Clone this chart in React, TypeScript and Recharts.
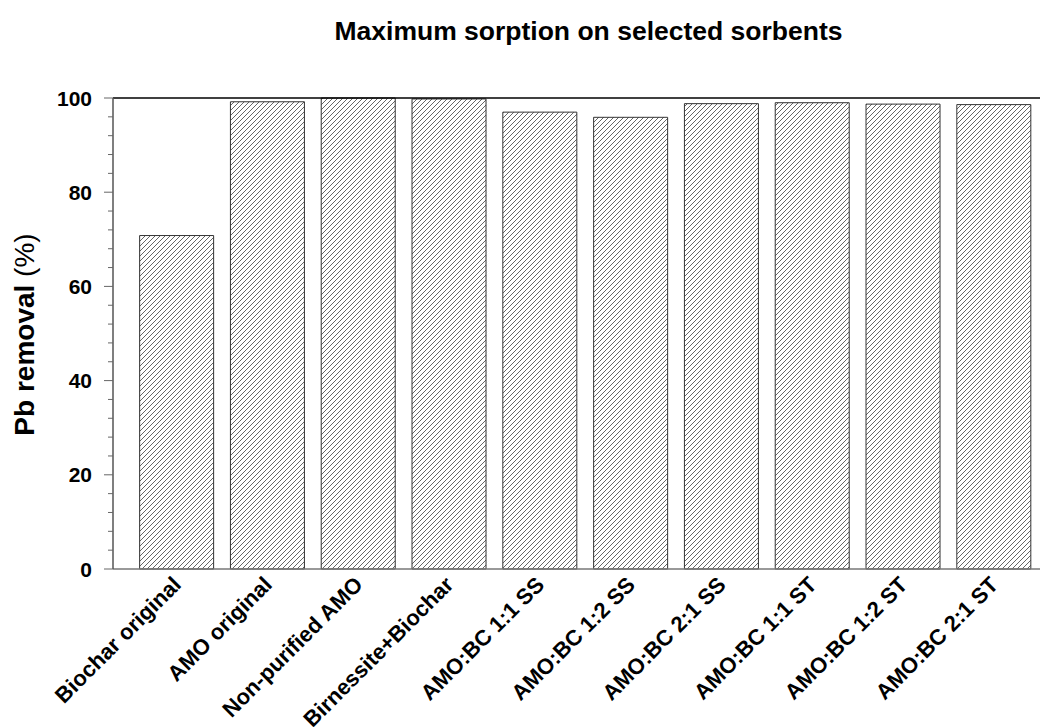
import React from "react";
import { BarChart, Bar, XAxis, YAxis, ReferenceLine } from "recharts";

const sorbents = [
  "Biochar original",
  "AMO original",
  "Non-purified AMO",
  "Birnessite+Biochar",
  "AMO:BC 1:1 SS",
  "AMO:BC 1:2 SS",
  "AMO:BC 2:1 SS",
  "AMO:BC 1:1 ST",
  "AMO:BC 1:2 ST",
  "AMO:BC 2:1 ST",
];
const pbRemoval = [70.8, 99.2, 100, 99.8, 97.0, 95.9, 98.8, 99.0, 98.7, 98.6];
const yTicks = [0, 4, 8, 12, 16, 20, 24, 28, 32, 36, 40, 44, 48, 52, 56, 60, 64, 68, 72, 76, 80, 84, 88, 92, 96, 100];

const data = sorbents.map((name, i) => ({ name, value: pbRemoval[i] }));

const FONT = '"Liberation Sans", Arial, sans-serif';

function YTick(props: any) {
  const { x, y, payload } = props;
  const major = payload.value % 20 === 0;
  return (
    <g>
      <line x1={major ? x - 9 : x - 5} x2={x} y1={y} y2={y} stroke="#666" strokeWidth={1} />
      {major && (
        <text x={x - 21} y={y} dy="0.36em" textAnchor="end" fontFamily={FONT} fontWeight="bold" fontSize={21} fill="#000">
          {payload.value}
        </text>
      )}
    </g>
  );
}

function XTick(props: any) {
  const { x, y, payload } = props;
  return (
    <g transform={`translate(${x + 6},${y + 17})`}>
      <text textAnchor="end" transform="rotate(-45)" fontFamily={FONT} fontWeight="bold" fontSize={22} fill="#000">
        {payload.value}
      </text>
    </g>
  );
}

function YLabel(props: any) {
  const vb = props.viewBox || { x: 0, y: 0, width: 0, height: 0 };
  const cx = 26;
  const cy = vb.y + vb.height / 2 + 1;
  return (
    <text x={cx} y={cy} transform={`rotate(-90, ${cx}, ${cy})`} textAnchor="middle" fontFamily={FONT} fontSize={28} fill="#000">
      <tspan fontWeight="bold">Pb removal </tspan>
      <tspan>(%)</tspan>
    </text>
  );
}

export default function App() {
  return (
    <div style={{ position: "relative", width: 1040, height: 719, background: "#fff" }}>
      <div
        style={{
          position: "absolute",
          left: 0,
          top: 8,
          width: 1161,
          textAlign: "center",
          fontFamily: FONT,
          fontWeight: "bold",
          fontSize: 26.5,
          color: "#000",
        }}
      >
        Maximum sorption on selected sorbents
      </div>
      <BarChart
        width={1040}
        height={719}
        data={data}
        margin={{ top: 90, right: 0, left: 0, bottom: 0 }}
        barCategoryGap="9.5%"
      >
        <defs>
          <pattern id="hatch" patternUnits="userSpaceOnUse" width={5} height={5}>
            <path d="M-1,1 L1,-1 M0,5 L5,0 M4,6 L6,4" stroke="#555" strokeWidth={0.9} />
          </pattern>
        </defs>
        <XAxis
          dataKey="name"
          height={158}
          interval={0}
          padding={{ left: 18, right: 9 }}
          axisLine={{ stroke: "#777", strokeWidth: 1.5 }}
          tickLine={false}
          tickSize={0}
          tickMargin={0}
          tick={<XTick />}
        />
        <YAxis
          width={105}
          domain={[0, 100]}
          ticks={yTicks}
          interval={0}
          axisLine={{ stroke: "#555", strokeWidth: 1.5 }}
          tickLine={false}
          tickSize={0}
          tickMargin={0}
          tick={<YTick />}
          label={<YLabel />}
        />
        <ReferenceLine y={100} stroke="#000" strokeWidth={1.5} />
        <Bar dataKey="value" fill="url(#hatch)" stroke="#333" strokeWidth={1} isAnimationActive={false} />
      </BarChart>
    </div>
  );
}
